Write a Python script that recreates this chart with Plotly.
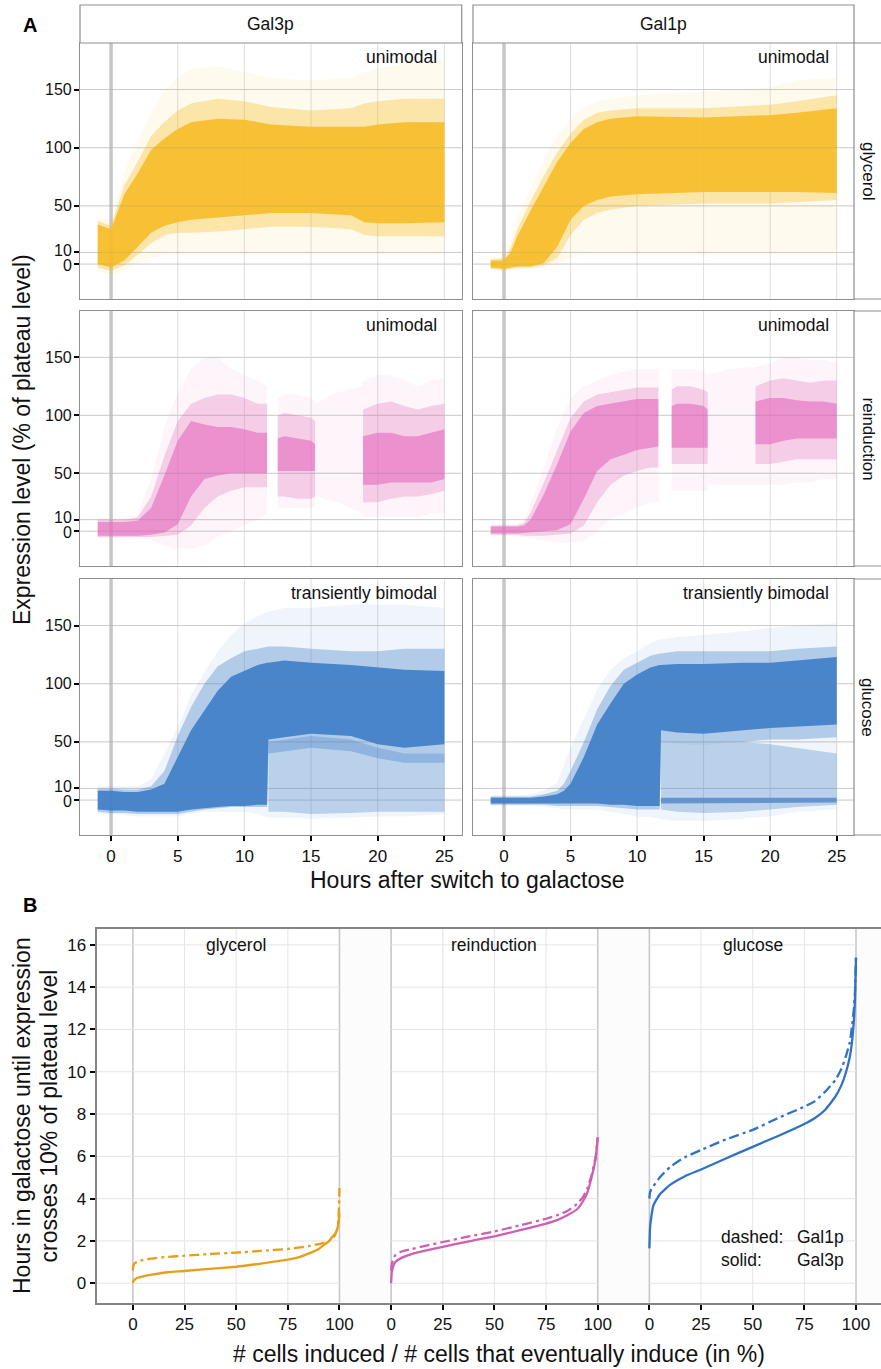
import plotly.graph_objects as go

# ---------------- Panel A data (expression level, % of plateau) ----------------
# Gal3p / glycerol
T_GAL3_GLY = [-1, 0, 1, 2, 3, 4, 5, 6, 8, 10, 12, 15, 18, 19, 20, 22, 25]
GAL3_GLY_OUT_HI = [40, 38, 80, 105, 130, 150, 160, 168, 170, 165, 160, 158, 160, 165, 168, 172, 175]
GAL3_GLY_OUT_LO = [-6, -9, -6, 0, 5, 8, 8, 8, 8, 8, 8, 8, 8, 8, 8, 8, 8]
GAL3_GLY_MID_HI = [37, 33, 68, 88, 110, 122, 132, 138, 142, 140, 135, 132, 134, 138, 140, 142, 142]
GAL3_GLY_MID_LO = [-3, -6, -1, 8, 18, 25, 27, 27, 28, 30, 32, 32, 30, 25, 24, 24, 24]
GAL3_GLY_CORE_HI = [34, 30, 60, 78, 98, 108, 116, 122, 125, 124, 120, 118, 118, 118, 120, 122, 122]
GAL3_GLY_CORE_LO = [0, -3, 3, 15, 27, 33, 36, 38, 40, 42, 44, 44, 42, 36, 35, 35, 36]

# Gal1p / glycerol
T_GAL1_GLY = [-1, 0, 0.5, 1, 2, 3, 4, 5, 6, 7, 8, 10, 15, 20, 22, 25]
GAL1_GLY_CORE_HI = [3, 3, 10, 24, 46, 67, 88, 104, 116, 122, 125, 127, 126, 128, 130, 134]
GAL1_GLY_CORE_LO = [-3, -4, -3, -2, -2, 1, 15, 38, 50, 55, 58, 60, 62, 62, 62, 61]
GAL1_GLY_MID_HI = [4, 5, 14, 30, 54, 76, 96, 112, 124, 130, 132, 134, 134, 137, 140, 145]
GAL1_GLY_MID_LO = [-4, -5, -4, -3, -3, -1, 5, 25, 38, 44, 47, 50, 52, 52, 53, 55]
GAL1_GLY_OUT_HI = [5, 6, 20, 40, 65, 90, 110, 125, 135, 140, 142, 145, 148, 152, 158, 160]
GAL1_GLY_OUT_LO = [-5, -6, -5, -4, -4, -3, 0, 5, 8, 8, 8, 8, 8, 8, 8, 8]

# Gal3p / reinduction (None = no cells imaged)
T_GAL3_REI = [-1, 0, 1, 2, 3, 4, 5, 6, 7, 8, 9, 10, 11, 11.7, None,
              12.5, 13, 14, 15, 15.3, None, 15.3, 17, 18.9, None,
              18.9, 20, 21, 22, 23, 24, 25]
GAL3_REI_CORE_HI = [8, 8, 8, 9, 20, 48, 78, 95, 92, 90, 90, 88, 85, 85, None,
                    80, 82, 80, 78, 75, None, None, None, None, None,
                    82, 85, 85, 82, 82, 85, 88]
GAL3_REI_CORE_LO = [-4, -4, -4, -4, -3, -1, 6, 30, 45, 48, 50, 50, 50, 50, None,
                    52, 52, 52, 52, 52, None, None, None, None, None,
                    40, 40, 42, 42, 42, 42, 45]
GAL3_REI_MID_HI = [10, 10, 10, 12, 30, 65, 95, 110, 115, 118, 118, 115, 110, 110, None,
                   100, 102, 100, 98, 95, None, None, None, None, None,
                   105, 110, 112, 108, 105, 108, 110]
GAL3_REI_MID_LO = [-5, -5, -5, -5, -5, -4, -3, 5, 20, 30, 35, 38, 38, 38, None,
                   30, 30, 28, 28, 30, None, None, None, None, None,
                   25, 25, 28, 30, 30, 32, 35]
GAL3_REI_OUT_HI = [11, 11, 11, 15, 45, 90, 120, 140, 150, 150, 140, 135, 130, 125, None,
                   115, 118, 118, 115, 112, None, 110, 120, 125, None,
                   130, 135, 135, 130, 125, 130, 132]
GAL3_REI_OUT_LO = [-6, -6, -6, -6, -8, -12, -15, -15, -12, -5, 0, 5, 10, 15, None,
                   20, 20, 20, 20, 22, None, 30, 25, 15, None,
                   12, 12, 12, 12, 12, 15, 15]

# Gal1p / reinduction
T_GAL1_REI = [-1, 0, 1, 1.5, 2, 3, 4, 5, 6, 7, 8, 9, 10, 11, 11.6, None,
              12.6, 13, 14, 15, 15.3, None, 15.3, 17, 18.9, None,
              18.9, 20, 21, 22, 23, 24, 25]
GAL1_REI_CORE_HI = [4, 4, 4, 5, 10, 32, 58, 86, 102, 108, 110, 112, 114, 114, 114, None,
                    108, 110, 110, 108, 105, None, None, None, None, None,
                    112, 115, 115, 113, 112, 112, 110]
GAL1_REI_CORE_LO = [-2, -2, -2, -2, -1, 0, 1, 6, 28, 52, 62, 66, 70, 72, 73, None,
                    72, 72, 72, 72, 72, None, None, None, None, None,
                    75, 75, 78, 80, 80, 80, 80]
GAL1_REI_MID_HI = [5, 5, 5, 7, 16, 42, 70, 98, 112, 118, 120, 122, 124, 124, 124, None,
                   122, 125, 125, 122, 120, None, None, None, None, None,
                   125, 130, 132, 130, 128, 130, 130]
GAL1_REI_MID_LO = [-3, -3, -3, -4, -4, -4, -3, -2, 5, 25, 40, 48, 52, 55, 55, None,
                   58, 58, 58, 58, 58, None, None, None, None, None,
                   58, 58, 60, 62, 62, 62, 62]
GAL1_REI_OUT_HI = [6, 6, 6, 10, 25, 55, 90, 115, 125, 130, 135, 138, 140, 140, 140, None,
                   140, 140, 140, 138, 135, None, 135, 140, 142, None,
                   142, 145, 150, 150, 148, 148, 145]
GAL1_REI_OUT_LO = [-4, -4, -4, -5, -6, -8, -10, -10, -8, 0, 10, 15, 20, 25, 25, None,
                   35, 35, 35, 35, 35, None, 40, 40, 40, None,
                   40, 40, 40, 42, 42, 45, 45]

# Gal3p / glucose
T_GAL3_GLU = [-1, 0, 1, 2, 3, 4, 5, 6, 7, 8, 9, 10, 11, 11.7, 11.8, 13, 15, 18, 20, 22, 25]
GAL3_GLU_CORE_HI = [8, 8, 7, 7, 9, 14, 37, 60, 77, 94, 106, 111, 116, 118, 118, 120, 118, 116, 114, 112, 111]
GAL3_GLU_CORE_LO = [-8, -9, -9, -10, -10, -10, -10, -8, -7, -6, -5, -5, -4, -4, 52, 54, 57, 55, 48, 45, 48]
GAL3_GLU_MID_HI = [10, 10, 9, 9, 12, 25, 55, 80, 100, 115, 122, 128, 130, 132, 132, 132, 130, 128, 128, 130, 130]
GAL3_GLU_MID_LO = [-10, -11, -11, -12, -12, -12, -12, -10, -8, -7, -6, -6, -6, -6, 40, 42, 45, 42, 36, 32, 32]
GAL3_GLU_OUT_HI = [12, 12, 12, 12, 18, 40, 62, 90, 110, 128, 142, 152, 158, 162, 162, 165, 165, 168, 168, 168, 165]
GAL3_GLU_OUT_LO = [-12, -12, -13, -14, -14, -14, -14, -12, -10, -10, -10, -10, -12, -15, -15, -15, -16, -15, -14, -14, -12]
T_GAL3_GLU_LOW = [11.8, 13, 15, 18, 20, 22, 25]
GAL3_GLU_LOW_LO = [-10, -10, -12, -11, -10, -10, -10]
GAL3_GLU_LOW_HI = [50, 52, 55, 52, 45, 40, 40]

# Gal1p / glucose
T_GAL1_GLU = [-1, 0, 1, 2, 3, 4, 4.5, 5, 6, 7, 8, 9, 10, 11, 11.7, 11.8, 13, 15, 18, 20, 22, 25]
GAL1_GLU_CORE_HI = [2, 2, 2, 2, 3, 5, 8, 14, 37, 65, 83, 100, 108, 114, 116, 116, 117, 117, 118, 118, 120, 123]
GAL1_GLU_CORE_LO = [-3, -3, -3, -3, -3, -3, -3, -3, -3, -3, -4, -4, -5, -5, -5, 60, 58, 57, 60, 62, 63, 65]
GAL1_GLU_MID_HI = [3, 3, 3, 3, 5, 8, 14, 25, 50, 78, 98, 112, 118, 124, 126, 126, 128, 128, 128, 128, 130, 132]
GAL1_GLU_MID_LO = [-4, -4, -4, -4, -4, -5, -5, -5, -5, -5, -6, -7, -8, -8, -8, 50, 48, 47, 50, 52, 52, 54]
GAL1_GLU_OUT_HI = [4, 4, 4, 5, 8, 15, 30, 45, 70, 95, 112, 122, 128, 135, 138, 138, 140, 142, 145, 148, 150, 152]
GAL1_GLU_OUT_LO = [-5, -5, -5, -5, -6, -7, -8, -8, -8, -8, -10, -12, -14, -15, -16, -16, -18, -18, -16, -14, -10, -8]
T_GAL1_GLU_LOW = [11.8, 13, 15, 18, 20, 22, 25]
GAL1_GLU_LOW_LO = [-8, -10, -11, -10, -8, -6, -4]
GAL1_GLU_LOW_HI = [50, 48, 47, 50, 48, 45, 40]
T_GAL1_GLU_BASE = [11.8, 15, 20, 25]
GAL1_GLU_BASE_LO = [-3, -3, -2.5, -2]
GAL1_GLU_BASE_HI = [2, 2, 2, 2]

A_XTICKS = [0, 5, 10, 15, 20, 25]
A_YTICKS = [0, 10, 50, 100, 150]
PROTEINS = ["Gal3p", "Gal1p"]
CONDITIONS = ["glycerol", "reinduction", "glucose"]
MODALITY = ["unimodal", "unimodal", "transiently bimodal"]

# ---------------- Panel B data (hours until 10% of plateau) ----------------
B_PCT = [0, 0.3, 1, 2, 5, 10, 17, 25, 37, 50, 62, 75, 80, 85, 90, 93, 95, 97, 98, 99, 99.5, 100]
B_GLY_GAL3 = [0.0, 0.1, 0.18, 0.25, 0.33, 0.42, 0.52, 0.58, 0.68, 0.78, 0.93, 1.12, 1.22, 1.4,
              1.62, 1.85, 2.0, 2.25, 2.35, 2.6, 2.8, 3.3]
B_GLY_GAL1 = [0.6, 0.85, 0.95, 1.0, 1.1, 1.18, 1.25, 1.3, 1.38, 1.45, 1.53, 1.62, 1.68, 1.75,
              1.85, 1.93, 2.0, 2.15, 2.3, 2.6, 3.0, 4.5]
B_GLU_GAL3 = [1.65, 2.6, 3.2, 3.7, 4.2, 4.65, 5.05, 5.38, 5.9, 6.45, 6.95, 7.53, 7.8, 8.19,
              8.82, 9.38, 9.93, 10.7, 11.35, 12.45, 13.4, 15.4]
B_GLU_GAL1 = [4.0, 4.3, 4.45, 4.6, 5.0, 5.5, 5.95, 6.3, 6.8, 7.25, 7.8, 8.35, 8.6, 9.05,
              9.6, 10.15, 10.7, 11.4, 12.1, 13.0, 13.8, 15.4]
B_REI_PCT = [0, 0.3, 1, 2, 5, 10, 17, 25, 37, 50, 62, 75, 80, 85, 90, 93, 95, 97, 99, 100]
B_REI_GAL3 = [0.0, 0.5, 0.8, 1.0, 1.2, 1.38, 1.55, 1.72, 1.97, 2.22, 2.5, 2.82, 2.97, 3.2,
              3.5, 3.9, 4.3, 5.0, 5.9, 6.9]
B_REI_GAL1 = [0.6, 0.9, 1.15, 1.32, 1.5, 1.62, 1.78, 1.95, 2.2, 2.45, 2.73, 3.05, 3.2, 3.4,
              3.75, 4.1, 4.5, 5.1, 6.0, 6.9]
B_XTICKS = [0, 25, 50, 75, 100]
B_YTICKS = [0, 2, 4, 6, 8, 10, 12, 14, 16]

# ---------------- styling ----------------
W, H = 881, 1369
FONT = "Liberation Sans, Arial, Helvetica, sans-serif"
A_RGB = {"glycerol": (247, 188, 36), "reinduction": (229, 112, 190), "glucose": (64, 127, 200)}
B_RGB = {"glycerol": "rgb(232,158,24)", "reinduction": "rgb(206,96,180)", "glucose": "rgb(48,114,196)"}
BORDER = "#8f8f8f"
GRID = "#dedede"
GRID_B = "#e4e4e4"

COL_PX = [(80, 461.7), (473, 854)]
ROW_PX = [(43, 299), (311, 566), (579, 835)]
B_X_PX = (96.7, 881)
B_Y_PX = (929, 1302.7)
B_XRANGE = [-17.5, 362.1]
A_YLABEL_SHIFT = {0: -1.5, 10: 2.0}


def fx(p):
    return p / W


def fy(p):
    return 1 - p / H


def band_xy(ts, lo, hi):
    xs, ys = [], []
    run = []

    def flush():
        if len(run) >= 2:
            xs.extend([r[0] for r in run] + [r[0] for r in reversed(run)] + [run[0][0], None])
            ys.extend([r[2] for r in run] + [r[1] for r in reversed(run)] + [run[0][2], None])
        run.clear()

    for t, a, b in zip(ts, lo, hi):
        if t is None or a is None or b is None:
            flush()
        else:
            run.append((t, a, b))
    flush()
    return xs, ys


def hline(xref, yref, y, x0, x1, color, width, layer="below"):
    return dict(type="line", xref=xref, yref=yref, x0=x0, x1=x1, y0=y, y1=y,
                line=dict(color=color, width=width), layer=layer)


def vline(xref, yref, x, y0, y1, color, width, layer="below"):
    return dict(type="line", xref=xref, yref=yref, x0=x, x1=x, y0=y0, y1=y1,
                line=dict(color=color, width=width), layer=layer)


fig = go.Figure()

panels = [
    ("glycerol", [(T_GAL3_GLY, GAL3_GLY_OUT_LO, GAL3_GLY_OUT_HI, 0.08),
                  (T_GAL3_GLY, GAL3_GLY_MID_LO, GAL3_GLY_MID_HI, 0.35),
                  (T_GAL3_GLY, GAL3_GLY_CORE_LO, GAL3_GLY_CORE_HI, 0.88)]),
    ("glycerol", [(T_GAL1_GLY, GAL1_GLY_OUT_LO, GAL1_GLY_OUT_HI, 0.08),
                  (T_GAL1_GLY, GAL1_GLY_MID_LO, GAL1_GLY_MID_HI, 0.35),
                  (T_GAL1_GLY, GAL1_GLY_CORE_LO, GAL1_GLY_CORE_HI, 0.88)]),
    ("reinduction", [(T_GAL3_REI, GAL3_REI_OUT_LO, GAL3_REI_OUT_HI, 0.07),
                     (T_GAL3_REI, GAL3_REI_MID_LO, GAL3_REI_MID_HI, 0.3),
                     (T_GAL3_REI, GAL3_REI_CORE_LO, GAL3_REI_CORE_HI, 0.65)]),
    ("reinduction", [(T_GAL1_REI, GAL1_REI_OUT_LO, GAL1_REI_OUT_HI, 0.07),
                     (T_GAL1_REI, GAL1_REI_MID_LO, GAL1_REI_MID_HI, 0.3),
                     (T_GAL1_REI, GAL1_REI_CORE_LO, GAL1_REI_CORE_HI, 0.65)]),
    ("glucose", [(T_GAL3_GLU, GAL3_GLU_OUT_LO, GAL3_GLU_OUT_HI, 0.08),
                 (T_GAL3_GLU_LOW, GAL3_GLU_LOW_LO, GAL3_GLU_LOW_HI, 0.3),
                 (T_GAL3_GLU, GAL3_GLU_MID_LO, GAL3_GLU_MID_HI, 0.35),
                 (T_GAL3_GLU, GAL3_GLU_CORE_LO, GAL3_GLU_CORE_HI, 0.92)]),
    ("glucose", [(T_GAL1_GLU, GAL1_GLU_OUT_LO, GAL1_GLU_OUT_HI, 0.08),
                 (T_GAL1_GLU_LOW, GAL1_GLU_LOW_LO, GAL1_GLU_LOW_HI, 0.3),
                 (T_GAL1_GLU_BASE, GAL1_GLU_BASE_LO, GAL1_GLU_BASE_HI, 0.7),
                 (T_GAL1_GLU, GAL1_GLU_MID_LO, GAL1_GLU_MID_HI, 0.35),
                 (T_GAL1_GLU, GAL1_GLU_CORE_LO, GAL1_GLU_CORE_HI, 0.92)]),
]

shapes = []
annotations = []
TICKFONT = dict(family=FONT, size=17, color="#111")
YTICKFONT_A = dict(family=FONT, size=16, color="#111")

for i, (cond, layers) in enumerate(panels):
    n = i + 1
    xa = "x" if n == 1 else f"x{n}"
    ya = "y" if n == 1 else f"y{n}"
    r, g, b = A_RGB[cond]
    for ts, lo, hi, alpha in layers:
        bx, by = band_xy(ts, lo, hi)
        fig.add_trace(go.Scatter(
            x=bx, y=by, xaxis=xa, yaxis=ya, mode="lines", fill="toself",
            fillcolor=f"rgba({r},{g},{b},{alpha})",
            line=dict(width=0, color="rgba(0,0,0,0)"),
            hoverinfo="skip", showlegend=False))
    row, col = i // 2, i % 2
    (x0p, x1p), (y0p, y1p) = COL_PX[col], ROW_PX[row]
    fig.layout["xaxis" if n == 1 else f"xaxis{n}"] = dict(
        domain=[fx(x0p), fx(x1p)], range=[-2.33, 26.3], tickvals=A_XTICKS,
        showgrid=False, zeroline=False,
        showline=True, mirror=True, linecolor=BORDER, linewidth=1.2,
        ticks="outside" if row == 2 else "", ticklen=5, tickwidth=2, tickcolor="black",
        showticklabels=(row == 2), tickfont=TICKFONT, anchor=ya, fixedrange=True)
    fig.layout["yaxis" if n == 1 else f"yaxis{n}"] = dict(
        domain=[fy(y1p), fy(y0p)], range=[-30, 190], tickvals=A_YTICKS,
        showgrid=False, zeroline=False,
        showline=True, mirror=True, linecolor=BORDER, linewidth=1.2,
        ticks="outside" if col == 0 else "", ticklen=5, tickwidth=2, tickcolor="black",
        showticklabels=False, anchor=xa, fixedrange=True)
    if col == 0:
        # tick labels placed by hand so that the close "10" and "0" do not collide
        for v in A_YTICKS:
            annotations.append(dict(xref="paper", yref=ya, x=fx(74), y=v, text=str(v),
                                    xanchor="right", yanchor="middle", showarrow=False,
                                    yshift=A_YLABEL_SHIFT.get(v, 0), font=YTICKFONT_A))
    # grid (drawn as shapes so that the t = 0 marker sits on top of it)
    for v in A_XTICKS[1:]:
        shapes.append(vline(xa, f"{ya} domain", v, 0, 1, GRID, 1))
    for v in A_YTICKS:
        shapes.append(hline(f"{xa} domain", ya, v, 0, 1, GRID, 1))
    shapes.append(vline(xa, f"{ya} domain", 0, 0, 1, "#c6c6c6", 3.5))
    for v in A_YTICKS:
        shapes.append(hline(f"{xa} domain", ya, v, 0, 1, "rgba(140,140,140,0.22)", 1, "above"))
    annotations.append(dict(xref=xa, yref=ya, x=24.6, y=178, text=MODALITY[row],
                            xanchor="right", yanchor="middle", showarrow=False,
                            font=dict(family=FONT, size=17.5, color="#111")))

# strips
for col, name in enumerate(PROTEINS):
    x0p, x1p = COL_PX[col]
    shapes.append(dict(type="rect", xref="paper", yref="paper", x0=fx(x0p), x1=fx(x1p),
                       y0=fy(43), y1=fy(5), fillcolor="white",
                       line=dict(color=BORDER, width=1.2), layer="above"))
    annotations.append(dict(xref="paper", yref="paper", x=fx((x0p + x1p) / 2), y=fy(24),
                            text=name, showarrow=False, xanchor="center", yanchor="middle",
                            font=dict(family=FONT, size=17.5, color="#111")))
for row, name in enumerate(CONDITIONS):
    y0p, y1p = ROW_PX[row]
    shapes.append(dict(type="rect", xref="paper", yref="paper", x0=fx(854), x1=1.02,
                       y0=fy(y1p), y1=fy(y0p), fillcolor="white",
                       line=dict(color=BORDER, width=1.2), layer="above"))
    annotations.append(dict(xref="paper", yref="paper", x=fx(868), y=fy((y0p + y1p) / 2),
                            text=name, showarrow=False, textangle=90,
                            xanchor="center", yanchor="middle",
                            font=dict(family=FONT, size=17, color="#111")))

# ---------------- Panel B ----------------
B_SETS = [
    ("glycerol", B_PCT, B_GLY_GAL3, B_GLY_GAL1),
    ("reinduction", B_REI_PCT, B_REI_GAL3, B_REI_GAL1),
    ("glucose", B_PCT, B_GLU_GAL3, B_GLU_GAL1),
]
FACET_STEP = 125
b_tickvals, b_ticktext = [], []
for k, (cond, pct, gal3, gal1) in enumerate(B_SETS):
    off = k * FACET_STEP
    xs = [p + off for p in pct]
    fig.add_trace(go.Scatter(x=xs, y=gal3, xaxis="x7", yaxis="y7", mode="lines",
                             line=dict(color=B_RGB[cond], width=2.3, shape="spline", smoothing=0.4),
                             showlegend=False, hoverinfo="skip"))
    fig.add_trace(go.Scatter(x=xs, y=gal1, xaxis="x7", yaxis="y7", mode="lines",
                             line=dict(color=B_RGB[cond], width=2.3, dash="10px,4px,3px,4px",
                                       shape="spline", smoothing=0.4),
                             showlegend=False, hoverinfo="skip"))
    b_tickvals += [v + off for v in B_XTICKS]
    b_ticktext += [str(v) for v in B_XTICKS]
    gap_end = (k + 1) * FACET_STEP if k < 2 else B_XRANGE[1]
    shapes.append(dict(type="rect", xref="x7", yref="y7 domain", x0=100 + off, x1=gap_end,
                       y0=0, y1=1, fillcolor="#fcfcfc", line=dict(width=0), layer="below"))
    left = B_XRANGE[0] if k == 0 else off
    for v in B_YTICKS:
        shapes.append(hline("x7", "y7", v, left, 100 + off, GRID_B, 1))
    for v in B_XTICKS[1:-1]:
        shapes.append(vline("x7", "y7 domain", v + off, 0, 1, GRID_B, 1))
    for v in (0, 100):
        shapes.append(vline("x7", "y7 domain", v + off, 0, 1, "#c8c8c8", 1.6))
    annotations.append(dict(xref="x7", yref="y7", x=50 + off, y=16, text=cond, showarrow=False,
                            xanchor="center", yanchor="middle",
                            font=dict(family=FONT, size=17.5, color="#111")))

fig.layout["xaxis7"] = dict(
    domain=[fx(B_X_PX[0]), fx(B_X_PX[1])], range=B_XRANGE,
    tickvals=b_tickvals, ticktext=b_ticktext, showgrid=False,
    zeroline=False, showline=True, mirror=True, linecolor="#858585", linewidth=2.4,
    ticks="outside", ticklen=5, tickwidth=2, tickcolor="black",
    tickfont=TICKFONT, anchor="y7", fixedrange=True)
fig.layout["yaxis7"] = dict(
    domain=[fy(B_Y_PX[1]), fy(B_Y_PX[0])], range=[-0.92, 16.75],
    tickvals=B_YTICKS, showgrid=False, zeroline=False,
    showline=True, mirror=False, linecolor="#858585", linewidth=2.4,
    ticks="outside", ticklen=5, tickwidth=2, tickcolor="black",
    tickfont=TICKFONT, anchor="x7", fixedrange=True)

# legend-like note
for txt, xv, yv in [("dashed:", 283.5, 2.19), ("Gal1p", 320.5, 2.19),
                    ("solid:", 283.5, 1.1), ("Gal3p", 320.5, 1.1)]:
    annotations.append(dict(xref="x7", yref="y7", x=xv, y=yv, text=txt, showarrow=False,
                            xanchor="left", yanchor="middle",
                            font=dict(family=FONT, size=17.5, color="#111")))

# titles and panel letters
TITLE = dict(family=FONT, size=23, color="#111")
annotations += [
    dict(xref="paper", yref="paper", x=fx(30), y=fy(25), text="<b>A</b>", showarrow=False,
         xanchor="center", yanchor="middle", font=dict(family=FONT, size=20, color="black")),
    dict(xref="paper", yref="paper", x=fx(30), y=fy(905), text="<b>B</b>", showarrow=False,
         xanchor="center", yanchor="middle", font=dict(family=FONT, size=20, color="black")),
    dict(xref="paper", yref="paper", x=fx(22), y=fy(440), text="Expression level (% of plateau level)",
         textangle=-90, showarrow=False, xanchor="center", yanchor="middle", font=TITLE),
    dict(xref="paper", yref="paper", x=fx(467), y=fy(880), text="Hours after switch to galactose",
         showarrow=False, xanchor="center", yanchor="middle", font=TITLE),
    dict(xref="paper", yref="paper", x=fx(22), y=fy(1116), text="Hours in galactose until expression",
         textangle=-90, showarrow=False, xanchor="center", yanchor="middle", font=TITLE),
    dict(xref="paper", yref="paper", x=fx(48.5), y=fy(1116), text="crosses 10% of plateau level",
         textangle=-90, showarrow=False, xanchor="center", yanchor="middle", font=TITLE),
    dict(xref="paper", yref="paper", x=fx(499), y=fy(1354),
         text="# cells induced / # cells that eventually induce (in %)", showarrow=False,
         xanchor="center", yanchor="middle", font=TITLE),
]

fig.update_layout(
    width=W, height=H, margin=dict(l=0, r=0, t=0, b=0),
    paper_bgcolor="white", plot_bgcolor="rgba(0,0,0,0)",
    shapes=shapes, annotations=annotations, showlegend=False,
    font=dict(family=FONT, color="#111"))

fig.write_html("out.html", include_plotlyjs=True, config={"displayModeBar": False},
               post_script="document.body.style.margin='0px';")
